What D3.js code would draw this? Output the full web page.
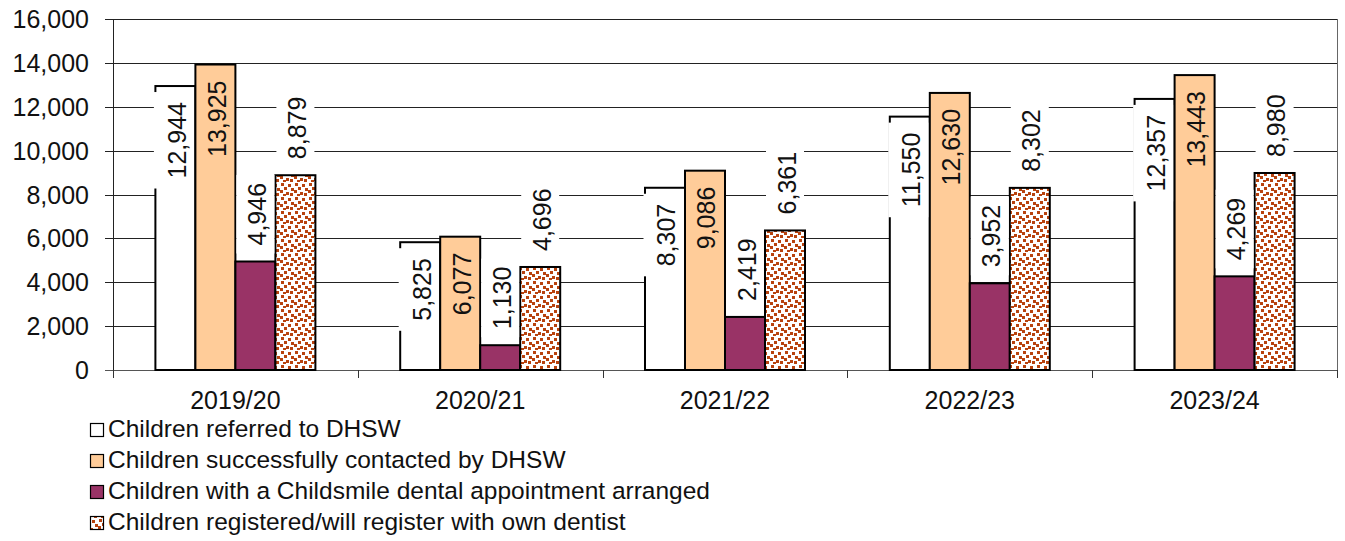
<!DOCTYPE html>
<html>
<head>
<meta charset="utf-8">
<script src="https://cdn.jsdelivr.net/npm/d3@7"></script>
<style>
  html, body { margin: 0; padding: 0; background: #fff; }
  svg { display: block; font-family: "Liberation Sans", Arial, sans-serif; }
</style>
</head>
<body>
<svg id="chart" width="1345" height="541"></svg>
<script>
const categories = ["2019/20", "2020/21", "2021/22", "2022/23", "2023/24"];
const referred    = [12944, 5825, 8307, 11550, 12357];
const contacted   = [13925, 6077, 9086, 12630, 13443];
const appointment = [4946, 1130, 2419, 3952, 4269];
const registered  = [8879, 4696, 6361, 8302, 8980];
const seriesNames = [
  "Children referred to DHSW",
  "Children successfully contacted by DHSW",
  "Children with a Childsmile dental appointment arranged",
  "Children registered/will register with own dentist"
];
const yTicks = [0, 2000, 4000, 6000, 8000, 10000, 12000, 14000, 16000];

const seriesValues = [referred, contacted, appointment, registered];
const fills = ["#FFFFFF", "#FFCC99", "#993366", "url(#confetti)"];
const insideLabel = [true, true, false, false];

const svg = d3.select("#chart");
const defs = svg.append("defs");
const pat = defs.append("pattern").attr("id", "confetti")
  .attr("patternUnits", "userSpaceOnUse").attr("width", 14).attr("height", 14);
pat.append("rect").attr("width", 14).attr("height", 14).attr("fill", "#fff");
const dots = [[1,1],[8,2],[4,5],[11,6],[0,8],[6,10],[10,11],[3,12]];
dots.forEach(([dx, dy]) => pat.append("rect").attr("x", dx).attr("y", dy)
  .attr("width", 3).attr("height", 3).attr("fill", "#B8430F"));

const pLeft = 113, pRight = 1337, pTop = 19, pBottom = 370;
const x = d3.scaleBand().domain(categories).range([pLeft, pRight])
  .paddingInner(0.3464).paddingOuter(0.1732);
const xs = d3.scaleBand().domain(d3.range(4)).range([0, x.bandwidth()]).padding(0);
const y = d3.scaleLinear().domain([0, 16000]).range([pBottom, pTop]);
const fmt = d3.format(",");

// gridlines
svg.append("g").selectAll("line").data(yTicks).join("line")
  .attr("x1", pLeft - 8).attr("x2", pRight)
  .attr("y1", d => Math.round(y(d)) + 0.5).attr("y2", d => Math.round(y(d)) + 0.5)
  .attr("stroke", d => d === 0 ? "#555" : "#222").attr("stroke-width", 1);

// right border
svg.append("line").attr("x1", pRight + 0.5).attr("x2", pRight + 0.5)
  .attr("y1", pTop).attr("y2", pBottom).attr("stroke", "#666");

// y axis line
svg.append("line").attr("x1", pLeft + 0.5).attr("x2", pLeft + 0.5)
  .attr("y1", pTop).attr("y2", pBottom + 8).attr("stroke", "#222");

// y tick labels
svg.append("g").selectAll("text").data(yTicks).join("text")
  .attr("x", 89).attr("y", d => y(d)).attr("dy", "0.36em")
  .attr("text-anchor", "end").attr("font-size", 25).attr("fill", "#111")
  .text(d => fmt(d));

// x category boundary ticks
const bounds = categories.map(c => x(c) - x.step() * x.paddingOuter()).concat([pRight]);
svg.append("g").selectAll("line").data(bounds).join("line")
  .attr("x1", d => Math.round(d) + 0.5).attr("x2", d => Math.round(d) + 0.5)
  .attr("y1", pBottom).attr("y2", pBottom + 8).attr("stroke", "#333");

// x labels
svg.append("g").selectAll("text").data(categories).join("text")
  .attr("x", d => x(d) + x.bandwidth() / 2).attr("y", 409)
  .attr("text-anchor", "middle").attr("font-size", 25).attr("fill", "#111")
  .text(d => d);

// bars
const barData = [];
categories.forEach((c, ci) => {
  seriesValues.forEach((vals, si) => {
    barData.push({ c, si, v: vals[ci] });
  });
});
svg.append("g").selectAll("rect").data(barData).join("rect")
  .attr("x", d => x(d.c) + xs(d.si))
  .attr("y", d => y(d.v))
  .attr("width", xs.bandwidth())
  .attr("height", d => y(0) - y(d.v))
  .attr("fill", d => fills[d.si])
  .attr("stroke", "#000").attr("stroke-width", 2);

// labels
const lg = svg.append("g");
barData.forEach(d => {
  const bx = x(d.c) + xs(d.si), bw = xs.bandwidth();
  const cx = bx + bw / 2 + 1.5;
  const by = y(d.v);
  const g = lg.append("g");
  const box = g.append("rect").attr("fill", "#fff");
  let ty, anchor;
  if (insideLabel[d.si]) { ty = by + 16; anchor = "end"; }
  else { ty = by - 16; anchor = "start"; }
  const t = g.append("text")
    .attr("transform", `translate(${cx},${ty}) rotate(-90)`)
    .attr("text-anchor", anchor).attr("dy", "0.36em")
    .attr("font-size", 25).attr("fill", "#111").text(fmt(d.v));
  const len = t.node().getComputedTextLength();
  if (d.si === 0) {
    box.attr("x", bx - 1.5).attr("width", bw).attr("y", by + 6).attr("height", len + 20);
  } else if (!insideLabel[d.si]) {
    box.attr("x", bx + 1).attr("width", bw - 2).attr("y", by - 16 - len - 8).attr("height", len + 16);
  } else {
    box.remove();
  }
});

// legend
const legend = svg.append("g");
const rowsY = [437, 468, 499, 530];
seriesNames.forEach((name, i) => {
  legend.append("rect").attr("x", 90.5).attr("y", rowsY[i] - 13.5)
    .attr("width", 13).attr("height", 13)
    .attr("fill", i === 3 ? "url(#confetti)" : fills[i]).attr("stroke", "#000").attr("stroke-width", 1.2);
  legend.append("text").attr("x", 108).attr("y", rowsY[i])
    .attr("font-size", 24.5).attr("fill", "#111").text(name);
});
</script>
</body>
</html>
